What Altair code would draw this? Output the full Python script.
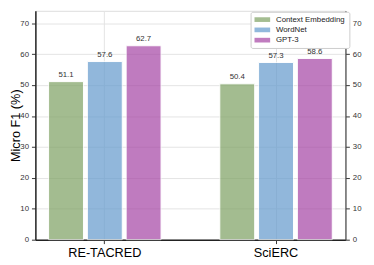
import altair as alt
import pandas as pd

datasets = ["RE-TACRED", "SciERC"]
methods = ["Context Embedding", "WordNet", "GPT-3"]
context_embedding = [51.1, 50.4]
wordnet = [57.6, 57.3]
gpt3 = [62.7, 58.6]
colors = ["#7da162", "#639acd", "#a544a4"]
y_ticks = [0, 10, 20, 30, 40, 50, 60, 70]

rows = []
for i, d in enumerate(datasets):
    for m, vals in zip(methods, [context_embedding, wordnet, gpt3]):
        rows.append({"dataset": d, "method": m, "f1": vals[i], "label": f"{vals[i]:.1f}"})
df = pd.DataFrame(rows)

FONT = "Liberation Sans"
y_scale = alt.Scale(domain=[0, 74], nice=False, zero=True)

x_enc = alt.X(
    "dataset:N", sort=datasets,
    scale=alt.Scale(paddingInner=0.343, paddingOuter=0.077),
    axis=alt.Axis(title=None, labelAngle=0, labelFontSize=13, labelColor="#000",
                  labelFont=FONT, tickSize=4, tickColor="#333", domainColor="#222",
                  domainWidth=1.5, grid=True, gridColor="#e3e3e3", labelPadding=3),
)
xoff_enc = alt.XOffset("method:N", sort=methods,
                       scale=alt.Scale(paddingInner=0.1, paddingOuter=0))

bars = alt.Chart(df).mark_bar(opacity=0.7, stroke="white", strokeWidth=1).encode(
    x=x_enc,
    xOffset=xoff_enc,
    y=alt.Y("f1:Q", scale=y_scale,
            axis=alt.Axis(values=y_ticks, title="Micro F1 (%)", titleFontSize=13,
                          titleFontWeight="normal", titleColor="#000", titleFont=FONT,
                          titleX=-13, titleY=117,
                          labelFontSize=8, labelColor="#333", labelFont=FONT,
                          tickSize=4, tickColor="#333", labelPadding=3,
                          domainColor="#222", domainWidth=1.5,
                          grid=True, gridColor="#e3e3e3")),
    color=alt.Color("method:N", sort=methods,
                    scale=alt.Scale(domain=methods, range=colors),
                    legend=alt.Legend(title=None, orient="none", legendX=220, legendY=1,
                                      labelFont=FONT, labelFontSize=8, labelColor="#222",
                                      symbolType="M-2,-0.6H2V0.6H-2Z", symbolSize=64,
                                      symbolOpacity=0.7, symbolStrokeWidth=0,
                                      symbolOffset=4, labelOffset=10, rowPadding=2.5,
                                      padding=4, strokeColor="#cccccc", fillColor="white",
                                      cornerRadius=2)),
)

texts = alt.Chart(df).mark_text(baseline="bottom", dy=-3, fontSize=8, color="#333",
                                font=FONT).encode(
    x=alt.X("dataset:N", sort=datasets),
    xOffset=alt.XOffset("method:N", sort=methods),
    y=alt.Y("f1:Q", scale=y_scale, axis=None),
    text="label:N",
)

right_axis = alt.Chart(df).mark_point(opacity=0).encode(
    y=alt.Y("f1:Q", scale=y_scale,
            axis=alt.Axis(orient="right", values=y_ticks, title=None, grid=False,
                          labelFontSize=8, labelColor="#333", labelFont=FONT,
                          tickSize=4, tickColor="#333", labelPadding=3,
                          domainColor="#444", domainWidth=1.2)),
)

chart = alt.layer(bars, texts, right_axis).resolve_axis(y="independent").properties(
    width=317, height=234,
    autosize=alt.AutoSizeParams(type="none"),
    padding={"left": 28, "top": 0, "right": 21, "bottom": 23},
).configure_view(stroke="#111", strokeWidth=1.5).configure(font=FONT)

chart.save("out.html", embed_options={"renderer": "svg", "actions": False})
